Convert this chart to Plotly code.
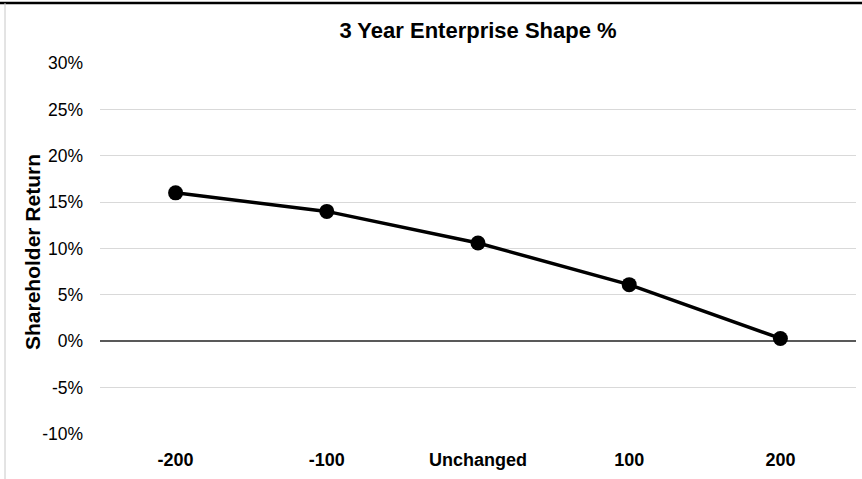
import plotly.graph_objects as go

# Rate shift scenarios and the resulting 3-year shareholder return (%)
scenarios = ["-200", "-100", "Unchanged", "100", "200"]
shareholder_return = [16.0, 14.0, 10.6, 6.1, 0.3]

y_ticks = [-10, -5, 0, 5, 10, 15, 20, 25, 30]
y_tick_labels = [f"{v}%" for v in y_ticks]

W, H = 862, 479
L, R, T, B = 100, 6, 63, 45
pw, ph = W - L - R, H - T - B


def px_x(x):
    return (x - L) / pw


def px_y(y):
    return (H - B - y) / ph


fig = go.Figure()
fig.add_trace(go.Scatter(
    x=scenarios,
    y=shareholder_return,
    mode="lines+markers",
    line=dict(color="black", width=3.5),
    marker=dict(color="black", size=15),
    cliponaxis=False,
    showlegend=False,
))

fig.update_layout(
    width=W, height=H,
    margin=dict(l=L, r=R, t=T, b=B),
    paper_bgcolor="white",
    plot_bgcolor="white",
    font=dict(family="Liberation Sans, Arial, sans-serif", color="#000000"),
    title=dict(
        text="<b>3 Year Enterprise Shape %</b>",
        x=0.5, xref="paper", xanchor="center",
        y=1 - 30 / H, yanchor="middle",
        font=dict(size=22, color="#000000"),
    ),
    xaxis=dict(
        type="category",
        tickvals=scenarios,
        ticktext=[f"<b>{s}</b>" for s in scenarios],
        tickfont=dict(size=18, color="#000000"),
        showgrid=False, zeroline=False, showline=False,
        ticks="", ticklabelstandoff=13,
        range=[-0.5, len(scenarios) - 0.5],
    ),
    yaxis=dict(
        range=[-10, 30],
        tickvals=y_ticks,
        ticktext=y_tick_labels,
        tickfont=dict(size=17.5, color="#000000"),
        showgrid=True, gridcolor="#d9d9d9", gridwidth=1,
        zeroline=True, zerolinecolor="#595959", zerolinewidth=1.5,
        showline=False, ticks="", ticklabelstandoff=16,
    ),
    annotations=[dict(
        text="<b>Shareholder Return</b>",
        textangle=-90,
        xref="paper", yref="paper",
        x=px_x(32), y=px_y(252),
        xanchor="center", yanchor="middle",
        showarrow=False,
        font=dict(size=21, color="#000000"),
    )],
    shapes=[
        dict(type="line", xref="paper", yref="paper",
             x0=px_x(0), x1=px_x(W), y0=px_y(3), y1=px_y(3),
             line=dict(color="black", width=2.5)),
        dict(type="line", xref="paper", yref="paper",
             x0=px_x(5), x1=px_x(5), y0=px_y(3), y1=px_y(H),
             line=dict(color="#c8c8c8", width=1)),
    ],
)

fig.write_html("out.html")
